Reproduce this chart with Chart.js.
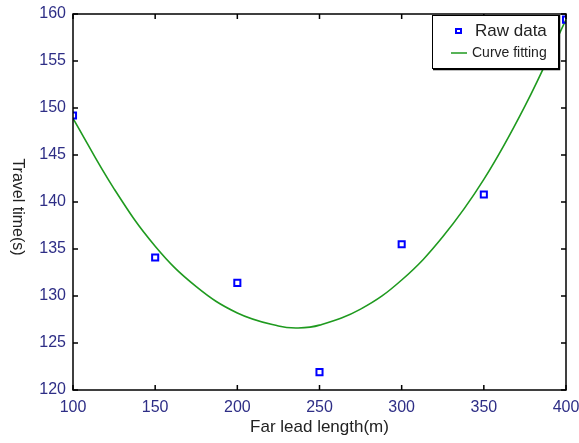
<!DOCTYPE html>
<html>
<head>
<meta charset="utf-8">
<script src="https://cdn.jsdelivr.net/npm/chart.js@4.4.1/dist/chart.umd.min.js"></script>
<style>
  body { margin: 0; background: #fff; }
  #wrap { width: 579px; height: 443px; position: relative; }
</style>
</head>
<body>
<div id="wrap"><canvas id="myChart"></canvas></div>
<script>
// raw measurements
const farLead = [100, 150, 200, 250, 300, 350, 400];
const rawTime = [149.2, 134.1, 131.4, 121.9, 135.5, 140.8, 159.4];

// fitted curve
const fitLead = [100, 125, 150, 175, 200, 225, 237, 250, 275, 300, 325, 350, 375, 400];
const fitTime = [148.9, 141.4, 135.3, 131.0, 128.2, 126.8, 126.6, 126.9, 128.6, 131.7, 136.3, 142.4, 150.2, 159.4];

const xTicks = [100, 150, 200, 250, 300, 350, 400];
const yTicks = [120, 125, 130, 135, 140, 145, 150, 155, 160];

const tickColor = '#2e2e86';
const fontFam = '"Liberation Sans", Arial, sans-serif';

// box, inward ticks, rotated y title and legend like the original figure
const matlabLook = {
  id: 'matlabLook',
  afterDraw(chart) {
    const ctx = chart.ctx;
    const a = chart.chartArea;
    const xs = chart.scales.x, ys = chart.scales.y;
    ctx.save();
    ctx.strokeStyle = '#000';
    ctx.lineWidth = 1.5;
    ctx.strokeRect(a.left, a.top, a.right - a.left, a.bottom - a.top);
    ctx.beginPath();
    xTicks.forEach(v => {
      const px = xs.getPixelForValue(v);
      ctx.moveTo(px, a.bottom); ctx.lineTo(px, a.bottom - 5);
      ctx.moveTo(px, a.top); ctx.lineTo(px, a.top + 5);
    });
    yTicks.forEach(v => {
      const py = ys.getPixelForValue(v);
      ctx.moveTo(a.left, py); ctx.lineTo(a.left + 5, py);
      ctx.moveTo(a.right, py); ctx.lineTo(a.right - 5, py);
    });
    ctx.stroke();

    // y title, reads top to bottom
    ctx.fillStyle = '#222';
    ctx.font = '16px ' + fontFam;
    ctx.translate(17, 207);
    ctx.rotate(Math.PI / 2);
    ctx.textAlign = 'center';
    ctx.textBaseline = 'middle';
    ctx.fillText('Travel time(s)', 0, 0);
    ctx.restore();

    // legend box
    ctx.save();
    const lx = 432, ly = a.top + 1, lw = 126, lh = 53;
    ctx.fillStyle = '#fff';
    ctx.fillRect(lx, ly, lw, lh);
    ctx.strokeStyle = '#000';
    ctx.lineWidth = 1;
    ctx.strokeRect(lx + 0.5, ly + 0.5, lw, lh);
    ctx.lineWidth = 1.5;
    ctx.beginPath();
    ctx.moveTo(lx + 1, ly + lh + 1.5); ctx.lineTo(lx + lw + 1.5, ly + lh + 1.5); ctx.lineTo(lx + lw + 1.5, ly);
    ctx.stroke();
    ctx.strokeStyle = '#0000ff';
    ctx.lineWidth = 2;
    ctx.strokeRect(456, 29, 5, 4);
    ctx.strokeStyle = '#1f9a1f';
    ctx.lineWidth = 1.5;
    ctx.beginPath();
    ctx.moveTo(451, 53); ctx.lineTo(467, 53);
    ctx.stroke();
    ctx.fillStyle = '#222';
    ctx.textBaseline = 'middle';
    ctx.font = '17px ' + fontFam;
    ctx.fillText('Raw data', 475, 31);
    ctx.font = '14px ' + fontFam;
    ctx.fillText('Curve fitting', 472, 53);
    ctx.restore();
  }
};

const ctx = document.getElementById('myChart').getContext('2d');

const myChart = new Chart(ctx, {
  type: 'scatter',
  data: {
    datasets: [{
      label: 'Raw data',
      data: farLead.map((x, i) => ({x: x, y: rawTime[i]})),
      pointStyle: 'rect',
      pointRadius: 4.3,
      borderColor: '#0000ff',
      backgroundColor: 'rgba(255,255,255,0)',
      borderWidth: 2,
      order: 0
    },
    {
      label: 'Curve fitting',
      data: fitLead.map((x, i) => ({x: x, y: fitTime[i]})),
      showLine: true,
      pointRadius: 0,
      borderColor: '#1f9a1f',
      borderWidth: 1.6,
      tension: 0.4,
      order: 1
    }]
  },
  options: {
    responsive: true,
    maintainAspectRatio: false,
    animation: false,
    layout: { padding: { top: 14, right: 13, left: 0, bottom: 0 } },
    plugins: {
      legend: { display: false },
      tooltip: { enabled: false }
    },
    scales: {
      x: {
        type: 'linear',
        min: 100, max: 400,
        afterFit(scale) { scale.height = 53; scale.paddingLeft = 0; scale.paddingRight = 0; },
        afterBuildTicks(scale) { scale.ticks = xTicks.map(v => ({value: v})); },
        grid: { display: false, drawTicks: false },
        border: { display: false },
        ticks: { color: tickColor, padding: 8, font: { family: fontFam, size: 16 } },
        title: {
          display: true, text: 'Far lead length(m)', color: '#222',
          font: { family: fontFam, size: 17 }, padding: { top: 0, bottom: 5 }
        }
      },
      y: {
        min: 120, max: 160,
        afterFit(scale) { scale.width = 73; scale.paddingTop = 0; scale.paddingBottom = 0; },
        afterBuildTicks(scale) { scale.ticks = yTicks.map(v => ({value: v})); },
        grid: { display: false, drawTicks: false },
        border: { display: false },
        ticks: { color: tickColor, padding: 7, font: { family: fontFam, size: 16 } }
      }
    }
  },
  plugins: [matlabLook]
});
</script>
</body>
</html>
